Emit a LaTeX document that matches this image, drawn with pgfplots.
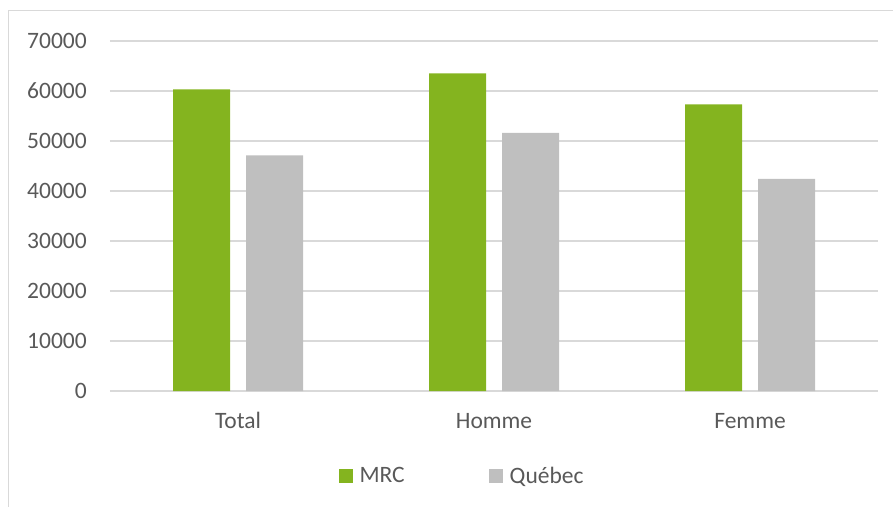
\documentclass[border=0pt]{standalone}
\usepackage{pgfplots}
\pgfplotsset{compat=1.18}
\usepackage{fontspec}
\setmainfont{Carlito}
\definecolor{mrcgreen}{HTML}{84B41F}
\definecolor{qcgray}{HTML}{BFBFBF}
\definecolor{gridc}{HTML}{D9D9D9}
\definecolor{txt}{HTML}{595959}
\begin{document}
\begin{tikzpicture}
\path[use as bounding box] (-110pt,-115pt) rectangle (783pt,391pt);
\draw[gridc, line width=1pt] (-101pt,-300pt) -- (-101pt,380pt) -- (1000pt,380pt);
\begin{axis}[
  at={(0pt,0pt)}, anchor=south west,
  scale only axis, width=768pt, height=350pt,
  ybar, bar width=57pt,
  xmin=-0.5, xmax=2.5, ymin=0, ymax=70000,
  enlargelimits=false,
  xtick={0,1,2}, xticklabels={Total,Homme,Femme},
  ytick={0,10000,...,70000},
  scaled y ticks=false,
  yticklabel style={/pgf/number format/fixed, /pgf/number format/1000 sep={}},
  /pgf/number format/assume math mode=true,
  major tick length=0pt,
  ymajorgrids, grid style={gridc, line width=1.3pt},
  axis x line*=bottom, axis y line*=left,
  x axis line style={draw=gridc, line width=1.3pt, -},
  y axis line style={draw=none},
  tick label style={font=\fontsize{23.5}{28}\selectfont, text=txt},
  yticklabel style={anchor=east, inner sep=0pt, xshift=-23pt},
  xticklabel style={anchor=base, inner sep=0pt, yshift=-37pt},
  legend image code/.code={\fill[#1, draw=none] (0pt,-7pt) rectangle (14pt,7pt); \path (18pt,0pt);},
  legend columns=2,
  legend style={draw=none, fill=none, at={(0.459,-0.243)}, anchor=center,
    font=\fontsize{23.5}{28}\selectfont, text=txt,
    nodes={inner sep=3pt},
    /tikz/every even column/.append style={column sep=81pt}},
]
\addplot[fill=mrcgreen, draw=none, bar shift=-36.5pt] coordinates {(0,60300) (1,63500) (2,57300)};
\addplot[fill=qcgray, draw=none, bar shift=36.5pt] coordinates {(0,47100) (1,51600) (2,42400)};
\legend{MRC, Québec}
\end{axis}
\end{tikzpicture}
\end{document}
